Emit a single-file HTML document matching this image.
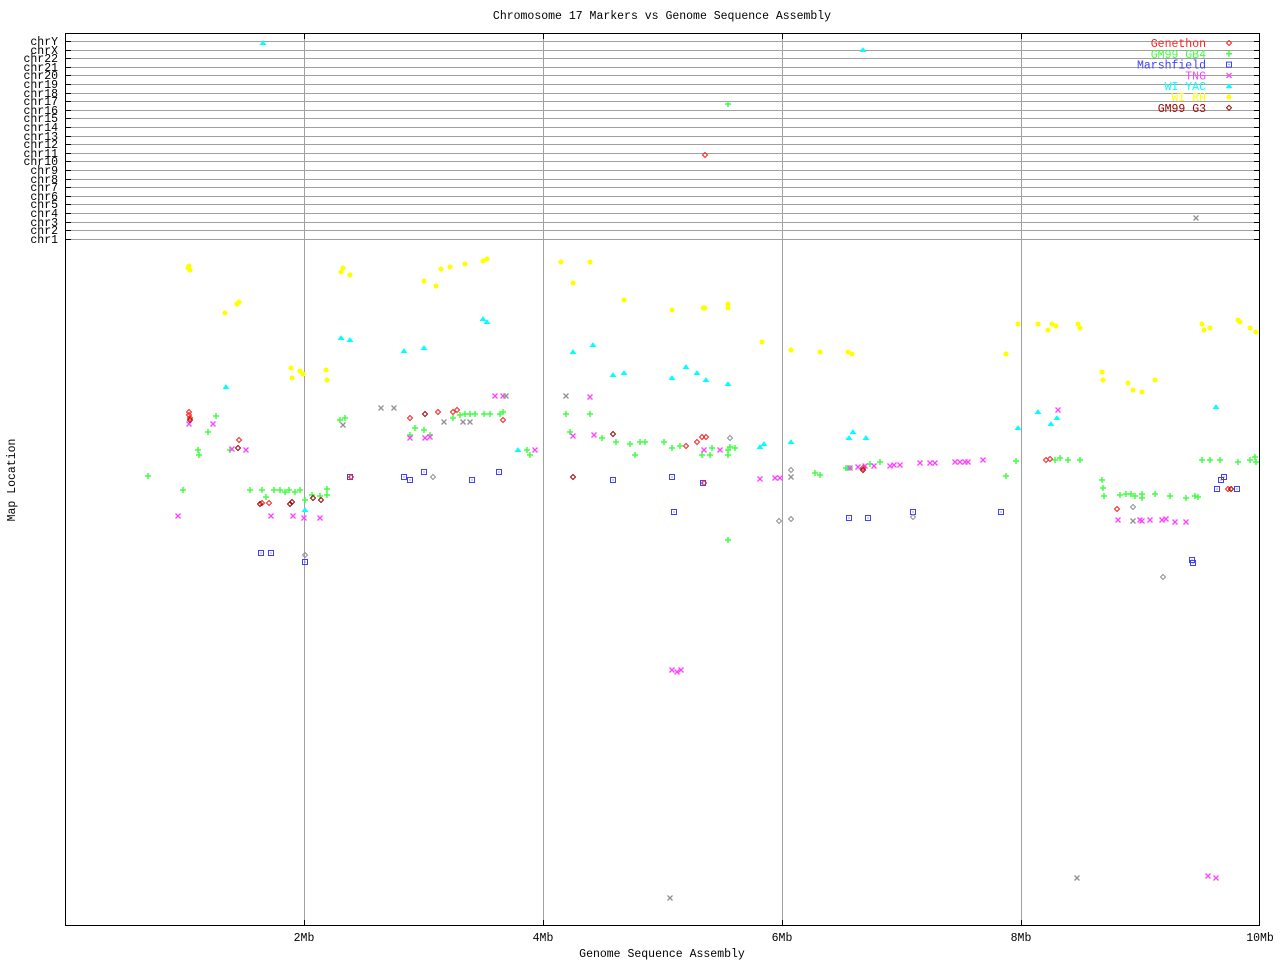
<!DOCTYPE html>
<html><head><meta charset="utf-8"><style>
html,body{margin:0;padding:0;background:#fff}
svg{display:block}
text{font-family:"Liberation Mono",monospace;font-size:11.5px}
</style></head><body>
<svg id="s" width="1280" height="960" xmlns="http://www.w3.org/2000/svg">
<rect x="0" y="0" width="1280" height="960" fill="#fff"/>
<g id="grid" stroke="#a0a0a0" stroke-width="1"></g>
<rect x="65.5" y="33.5" width="1194" height="892" fill="none" stroke="#000"/>
<g id="ticks" stroke="#000"></g>
<g id="lab"></g>
<g id="pts" stroke-width="1" fill="none"></g>
<text x="662" y="19" text-anchor="middle">Chromosome 17 Markers vs Genome Sequence Assembly</text>
<text x="662" y="957" text-anchor="middle">Genome Sequence Assembly</text>
<text x="15" y="480" text-anchor="middle" transform="rotate(-90 15 480)">Map Location</text>
<text x="304" y="941" text-anchor="middle">2Mb</text>
<text x="543" y="941" text-anchor="middle">4Mb</text>
<text x="782" y="941" text-anchor="middle">6Mb</text>
<text x="1021" y="941" text-anchor="middle">8Mb</text>
<text x="1260" y="941" text-anchor="middle">10Mb</text>
</svg>
<script>
var NS="http://www.w3.org/2000/svg";
function el(p,t,a,txt){var e=document.createElementNS(NS,t);for(var k in a)e.setAttribute(k,a[k]);if(txt)e.textContent=txt;document.getElementById(p).appendChild(e);return e;}
var chr=["chrY","chrX","chr22","chr21","chr20","chr19","chr18","chr17","chr16","chr15","chr14","chr13","chr12","chr11","chr10","chr9","chr8","chr7","chr6","chr5","chr4","chr3","chr2","chr1"];
for(var i=0;i<24;i++){var y=Math.round(41+i*8.6)+0.5;
el("grid","line",{x1:66,x2:1259,y1:y,y2:y});
el("ticks","line",{x1:66,x2:71,y1:y,y2:y});el("ticks","line",{x1:1254,x2:1259,y1:y,y2:y});
el("lab","text",{x:58,y:y+3.5,"text-anchor":"end"},chr[i]);}
[304,543,782,1021].forEach(function(x){el("grid","line",{x1:x+0.5,x2:x+0.5,y1:34,y2:925});el("ticks","line",{x1:x+.5,x2:x+.5,y1:920,y2:925});el("ticks","line",{x1:x+.5,x2:x+.5,y1:34,y2:39});});
function mk(t,c,x,y){
 if(t=="d"){el("pts","path",{d:"M"+x+","+(y-2.5)+"L"+(x+2.5)+","+y+"L"+x+","+(y+2.5)+"L"+(x-2.5)+","+y+"Z",stroke:c});}
 else if(t=="p"){el("pts","path",{d:"M"+(x-3)+","+y+"H"+(x+3)+"M"+x+","+(y-3)+"V"+(y+3),stroke:c,"stroke-width":1.5});}
 else if(t=="s"){el("pts","rect",{x:x-2.5,y:y-2.5,width:5,height:5,stroke:c});el("pts","rect",{x:x-0.5,y:y-0.5,width:1,height:1,fill:c});}
 else if(t=="x"){el("pts","path",{d:"M"+(x-2.5)+","+(y-2.5)+"L"+(x+2.5)+","+(y+2.5)+"M"+(x+2.5)+","+(y-2.5)+"L"+(x-2.5)+","+(y+2.5),stroke:c,"stroke-width":1.3});}
 else if(t=="t"){el("pts","path",{d:"M"+x+","+(y-2)+"L"+(x+2.5)+","+(y+1.5)+"L"+(x-2.5)+","+(y+1.5)+"Z",fill:c,stroke:c});}
 else if(t=="r"){el("pts","rect",{x:x-2,y:y-2,width:4,height:4,fill:c});el("pts","path",{d:"M"+(x-3)+","+y+"H"+(x+3)+"M"+x+","+(y-3)+"V"+(y+3),stroke:c});}
}
function ser(t,c,arr){for(var i=0;i<arr.length;i+=2)mk(t,c,arr[i],arr[i+1]);}
var Y="#ffff00",C="#00ffff",G="#40ff40",M="#ff40ff",B="#4040ff",R="#ff2020",D="#a00000",K="#909090";
ser("r",Y,[189,266,190,270,188,268,343,268,341,272,350,275,225,313,237,304,239,302,291,368,292,378,300,371,303,374,326,370,327,380,424,281,436,286,441,269,450,267,465,264,483,261,487,259,561,262,573,283,590,262,624,300,672,310,703,308,705,308,728,304,728,308,762,342,791,350,820,352,848,352,852,354,1018,324,1006,354,1038,324,1048,330,1052,324,1056,326,1078,324,1080,328,1102,372,1103,380,1128,383,1133,390,1142,392,1155,380,1202,324,1204,330,1210,328,1238,320,1240,322,1250,328,1256,332]);
ser("t",C,[263,43,863,50,226,387,341,338,350,340,404,351,424,348,483,319,487,322,518,450,573,352,593,345,613,375,624,373,672,378,686,367,697,373,706,380,728,384,760,447,764,444,791,442,849,438,853,432,848,468,866,438,1018,428,1038,412,1051,424,1057,418,1216,407,305,510]);
ser("p",G,[148,476,183,490,198,450,199,455,208,432,216,416,230,450,250,490,262,490,266,497,274,490,280,490,285,492,289,490,295,492,300,490,305,500,312,495,320,496,327,489,327,495,340,420,345,418,410,435,415,428,424,430,430,435,453,418,460,415,465,414,470,414,475,414,484,414,490,414,500,414,503,412,527,450,530,455,566,414,570,432,590,414,602,438,616,442,630,444,635,455,645,442,664,442,672,448,680,446,702,455,710,455,712,448,728,450,730,447,728,540,735,448,815,473,820,475,846,468,850,468,870,464,880,462,1006,476,1016,461,1055,460,1060,458,1068,460,1080,460,1102,480,1103,488,1104,496,1120,495,1126,494,1131,494,1135,496,1142,494,1142,498,1155,494,1170,496,1186,498,1195,496,1198,497,1202,460,1210,460,1220,460,1238,462,1250,460,1255,457,1256,462,640,442,728,455,728,104]);
ser("x",M,[178,516,189,424,213,424,232,449,246,450,271,516,293,516,304,518,320,518,410,438,425,438,430,437,495,396,503,396,535,450,573,436,590,397,594,435,672,670,677,672,681,670,704,450,720,450,760,479,775,478,780,478,850,468,858,467,865,466,874,466,890,466,894,465,900,465,920,463,930,463,935,463,955,462,960,462,965,462,968,462,983,460,1058,410,1118,520,1140,520,1142,521,1150,520,1162,520,1166,519,1175,522,1186,522,1208,876,1216,878]);
ser("s",B,[261,553,271,553,305,562,350,477,404,477,410,480,424,472,472,480,499,472,613,480,672,477,674,512,703,483,849,518,868,518,913,512,1001,512,1193,563,1221,480,1224,477,1217,489,1237,489,1192,560]);
ser("d",R,[189,412,189,415,190,418,239,440,262,503,269,503,351,477,410,418,438,412,453,412,457,410,503,420,686,446,697,442,702,437,706,437,704,483,705,155,1046,460,1050,459,1117,509,863,468,1228,489]);
ser("d",D,[190,420,238,448,260,504,290,504,292,502,313,498,321,500,425,414,573,477,613,434,863,470,1231,489]);
ser("d",K,[305,555,433,477,730,438,791,470,779,521,791,519,913,517,1133,507,1163,577]);
ser("x",K,[343,425,381,408,394,408,444,422,463,422,470,422,506,396,566,396,670,898,791,477,1077,878,1196,218,1133,521]);
var leg=[["Genethon",R,"d"],["GM99 GB4",G,"p"],["Marshfield",B,"s"],["TNG",M,"x"],["WI YAC",C,"t"],["WI RH",Y,"r"],["GM99 G3",D,"d"]];
leg.forEach(function(l,i){var y=43+i*10.8;el("lab","text",{x:1206,y:y+4,"text-anchor":"end",fill:l[1]},l[0]);mk(l[2],l[1],1229,y);});
</script>
</body></html>
